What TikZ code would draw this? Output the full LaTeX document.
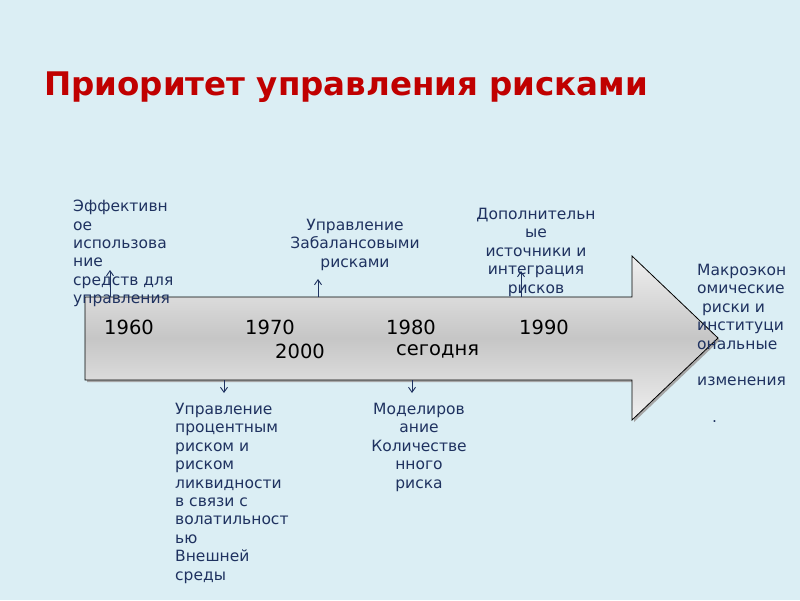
\documentclass[tikz,border=0pt]{standalone}
\usepackage{fontspec}
\setmainfont{DejaVu Sans}
\usetikzlibrary{arrows.meta}
\definecolor{bgc}{RGB}{219,238,244}
\definecolor{titlec}{RGB}{192,0,0}
\definecolor{navy}{RGB}{31,50,96}
\tikzset{
  lbl/.style={font=\fontsize{15.5}{18.4}\selectfont, text=navy, inner sep=0pt},
  yr/.style={font=\fontsize{19.5}{22}\selectfont, text=black, inner sep=0pt, anchor=west},
  tick/.style={draw=navy, line width=0.9pt, -{Straight Barb[length=5pt,width=7pt]}}
}
\begin{document}
\begin{tikzpicture}[x=1pt,y=-1pt]
\fill[bgc] (0,0) rectangle (800,600);
\useasboundingbox (0,0) rectangle (800,600);
\node[font=\fontsize{32.5}{40}\selectfont\bfseries, text=titlec, anchor=base west, inner sep=0pt] (title) at (44,95) {Приоритет управления рисками};
% arrow shadow
\fill[black!35] (87,299) -- (634,299) -- (634,258) -- (720,340) -- (634,422) -- (634,382) -- (87,382) -- cycle;
\path[draw=black, line width=0.8pt, top color=gray!12, bottom color=gray!12, middle color=gray!45]
  (85,297) -- (632,297) -- (632,256) -- (718,338) -- (632,420) -- (632,380) -- (85,380) -- cycle;
\node[yr] (y1960) at (104,327) {1960};
\node[yr] (y1970) at (245,327) {1970};
\node[yr] (y1980) at (386,327) {1980};
\node[yr] (y1990) at (519,327) {1990};
\node[yr] (y2000) at (275,351) {2000};
\node[yr] (ytoday) at (396,351) {сегодня};
% labels
\node[lbl, anchor=north west, align=left] (l1) at (73,200) {Эффективн\\ое\\использова\\ние\\средств для\\управления};
\node[lbl, anchor=north, align=center] (l2) at (355,219) {Управление\\Забалансовыми\\рисками};
\node[lbl, anchor=north, align=center] (l3) at (536,208) {Дополнительн\\ые\\источники и\\интеграция\\рисков};
\node[lbl, anchor=north west, align=left] (l4) at (697,264) {Макроэкон\\омические\\\ риски и\\институци\\ональные\\ \\ изменения\\ \\ \hspace{15pt}.};
\node[lbl, anchor=north west, align=left] (l5) at (175,403) {Управление\\процентным\\риском и\\риском\\ликвидности\\в связи с\\волатильност\\ью\\Внешней\\среды};
\node[lbl, anchor=north, align=center] (l6) at (419,403) {Моделиров\\ание\\Количестве\\нного\\риска};
% ticks
\coordinate (a1s) at (110,297); \coordinate (a1e) at (110,270);
\coordinate (a2s) at (318,297); \coordinate (a2e) at (318,279);
\coordinate (a3s) at (521,297); \coordinate (a3e) at (521,271);
\coordinate (a4s) at (224,380); \coordinate (a4e) at (224,393);
\coordinate (a5s) at (412,380); \coordinate (a5e) at (412,393);
\draw[tick] (a1s) -- (a1e);
\draw[tick] (a2s) -- (a2e);
\draw[tick] (a3s) -- (a3e);
\draw[tick] (a4s) -- (a4e);
\draw[tick] (a5s) -- (a5e);
\end{tikzpicture}
\end{document}
